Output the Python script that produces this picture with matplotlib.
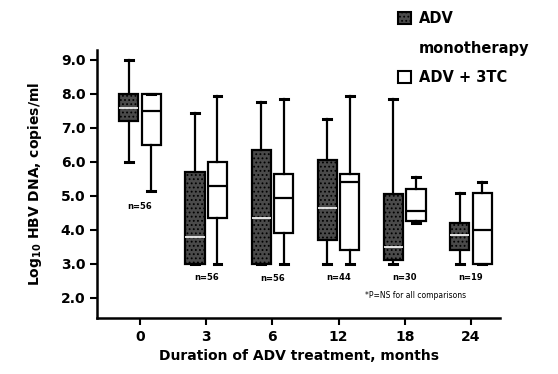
import matplotlib
matplotlib.use("Agg")
import matplotlib.pyplot as plt
from matplotlib.patches import Patch

months = ["0", "3", "6", "12", "18", "24"]
n_labels = ["n=56", "n=56", "n=56", "n=44", "n=30", "n=19"]
# [whislo, q1, med, q3, whishi]
mono = [
    [6.0, 7.2, 7.6, 8.0, 9.0],
    [3.0, 3.0, 3.8, 5.7, 7.45],
    [3.0, 3.0, 4.35, 6.35, 7.75],
    [3.0, 3.7, 4.65, 6.05, 7.25],
    [3.0, 3.1, 3.5, 5.05, 7.85],
    [3.0, 3.4, 3.85, 4.2, 5.1],
]
combo = [
    [5.15, 6.5, 7.5, 8.0, 8.0],
    [3.0, 4.35, 5.3, 6.0, 7.95],
    [3.0, 3.9, 4.95, 5.65, 7.85],
    [3.0, 3.4, 5.4, 5.65, 7.95],
    [4.2, 4.25, 4.55, 5.2, 5.55],
    [3.0, 3.0, 4.0, 5.1, 5.4],
]
n_y = [4.68, 2.6, 2.58, 2.6, 2.6, 2.6]

plt.rcParams['font.family'] = ['DejaVu Sans']
plt.rcParams['font.weight'] = 'bold'
plt.rcParams['hatch.color'] = 'white'
plt.rcParams['hatch.linewidth'] = 0.8

fig = plt.figure(figsize=(5.58, 3.74), dpi=100)
ax = fig.add_axes([0.174, 0.15, 0.722, 0.716])

def stats(v):
    return dict(whislo=v[0], q1=v[1], med=v[2], q3=v[3], whishi=v[4], fliers=[])

pos = list(range(len(months)))
w = 0.29
off = 0.17
lw = 1.6
ax.bxp([stats(v) for v in mono], positions=[p - off for p in pos], widths=w,
       patch_artist=True, showfliers=False,
       boxprops=dict(facecolor='#4a4a4a', edgecolor='black', linewidth=lw, hatch='....'),
       medianprops=dict(color='white', linewidth=1.2),
       whiskerprops=dict(color='black', linewidth=lw),
       capprops=dict(color='black', linewidth=2.2), capwidths=0.12)
ax.bxp([stats(v) for v in combo], positions=[p + off for p in pos], widths=w,
       patch_artist=True, showfliers=False,
       boxprops=dict(facecolor='white', edgecolor='black', linewidth=lw),
       medianprops=dict(color='black', linewidth=lw),
       whiskerprops=dict(color='black', linewidth=lw),
       capprops=dict(color='black', linewidth=2.2), capwidths=0.12)

for p, t, yv in zip(pos, n_labels, n_y):
    ax.text(p, yv, t, ha='center', va='center', fontsize=6, fontweight='bold')
ax.text(4.17, 2.06, "*P=NS for all comparisons", ha='center', va='center',
        fontsize=5.5, fontweight='normal')

ax.set_xlim(-0.65, 5.44)
ax.set_ylim(1.41, 9.29)
ax.set_xticks(pos)
ax.set_xticklabels(months, fontsize=10, fontweight='bold')
ax.set_yticks([2, 3, 4, 5, 6, 7, 8, 9])
ax.set_yticklabels([f"{v:.1f}" for v in [2, 3, 4, 5, 6, 7, 8, 9]], fontsize=10, fontweight='bold')
ax.tick_params(axis='both', direction='out', width=1.5, length=5)
for s in ['top', 'right']:
    ax.spines[s].set_visible(False)
for s in ['left', 'bottom']:
    ax.spines[s].set_linewidth(1.8)
ax.set_ylabel("Log$_{\\mathbf{10}}$ HBV DNA, copies/ml", fontsize=10, fontweight='bold',
              labelpad=12)
ax.set_xlabel("Duration of ADV treatment, months", fontsize=10, fontweight='bold')

handles = [Patch(facecolor='#4a4a4a', edgecolor='black', hatch='....', linewidth=1.5),
           Patch(facecolor='none', edgecolor='none', linewidth=0),
           Patch(facecolor='white', edgecolor='black', linewidth=1.5)]
leg = fig.legend(handles, ["ADV", "monotherapy", "ADV + 3TC"], loc='upper left',
                 bbox_to_anchor=(0.69, 1.005), frameon=False, fontsize=10.5,
                 handlelength=0.9, handleheight=0.9, labelspacing=1.0, handletextpad=0.5)

fig.savefig("out.png", dpi=100)
